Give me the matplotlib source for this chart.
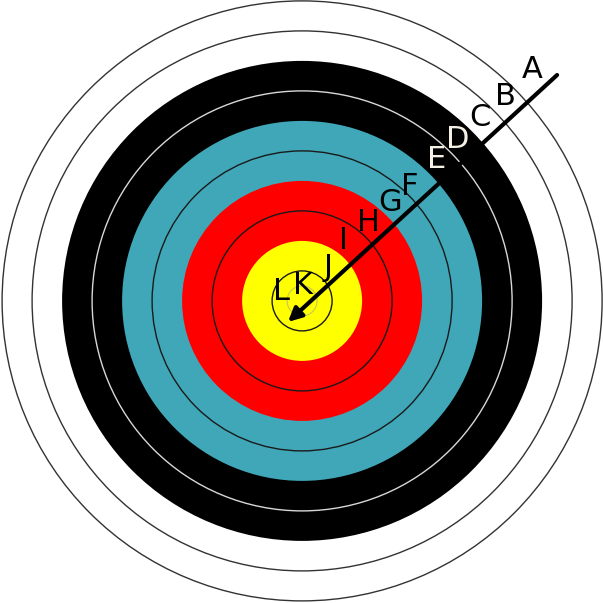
import numpy as np
import matplotlib.pyplot as plt
from matplotlib.patches import Circle

# target geometry, in ring widths (1 unit = one scoring ring)
zone_edges = [10, 8, 6, 4, 2]
zone_colors = ["white", "black", "#3fa7b8", "#ff0000", "#ffff00"]
line_radii = [10, 9, 7, 5, 3, 1]
line_colors = ["#333333", "#333333", "#d8d8d8", "#1a1a1a", "#1a1a1a", "#1a1a1a"]
x_ring = 0.5

# zone labels along the arrow
letters = ["A", "B", "C", "D", "E", "F", "G", "H", "I", "J", "K", "L"]
letter_x = [7.67, 6.77, 5.93, 5.20, 4.47, 3.60, 2.93, 2.20, 1.37, 0.87, 0.03, -0.67]
letter_y = [7.70, 6.80, 6.10, 5.37, 4.70, 3.80, 3.27, 2.63, 2.03, 1.13, 0.53, 0.30]
letter_colors = ["black", "black", "black", "#f4f1e4", "#f4f1e4", "black",
                 "black", "black", "black", "black", "black", "black"]

# arrow, tail and tip
arrow_tail = (8.5, 7.53)
arrow_tip = (-0.47, -0.7)

fig = plt.figure(figsize=(6.03, 6.03), dpi=100)
ax = fig.add_axes([0, 0, 1, 1])
ax.set_xlim(-10.07, 10.03)
ax.set_ylim(-10.07, 10.03)
ax.set_aspect("equal")
ax.axis("off")

for r, c in zip(zone_edges, zone_colors):
    ax.add_patch(Circle((0, 0), r, facecolor=c, edgecolor="none", zorder=1))

for r, c in zip(line_radii, line_colors):
    ax.add_patch(Circle((0, 0), r, facecolor="none", edgecolor=c, lw=1.0, zorder=2))
ax.add_patch(Circle((0, 0), x_ring, facecolor="none", edgecolor="#c8c850", lw=0.8, zorder=2))

ax.annotate("", xy=arrow_tip, xytext=arrow_tail,
            arrowprops=dict(arrowstyle="-|>,head_length=0.8,head_width=0.4",
                            lw=3, color="black", shrinkA=0, shrinkB=0),
            zorder=4)

for t, x, y, c in zip(letters, letter_x, letter_y, letter_colors):
    ax.text(x, y, t, fontsize=22, color=c, ha="center", va="center",
            family="DejaVu Sans", zorder=5)

fig.savefig("out.png", dpi=100)
